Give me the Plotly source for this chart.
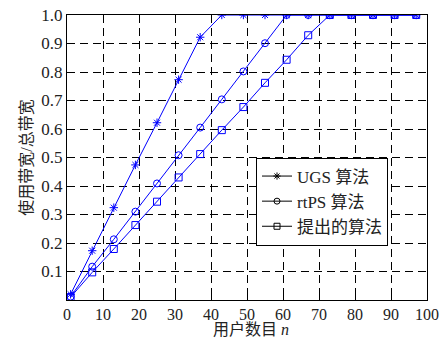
import plotly.graph_objects as go

users = [1, 7, 13, 19, 25, 31, 37, 43, 49, 55, 61, 67, 73, 79, 85, 91, 97]
ugs = [0.02, 0.173, 0.324, 0.474, 0.622, 0.773, 0.922, 1.0, 1.0, 1.0, 1.0, 1.0, 1.0, 1.0, 1.0, 1.0, 1.0]
rtps = [0.012, 0.117, 0.213, 0.31, 0.409, 0.508, 0.605, 0.704, 0.802, 0.901, 1.0, 1.0, 1.0, 1.0, 1.0, 1.0, 1.0]
proposed = [0.01, 0.097, 0.179, 0.263, 0.345, 0.43, 0.512, 0.596, 0.677, 0.762, 0.843, 0.929, 1.0, 1.0, 1.0, 1.0, 1.0]
names = ["UGS 算法", "rtPS 算法", "提出的算法"]
symbols = ["asterisk-open", "circle-open", "square-open"]
x_title = "用户数目 <i>n</i>"
y_title = "使用带宽/总带宽"

xticks = list(range(0, 101, 10))
yticks = [round(0.1 * i, 1) for i in range(1, 11)]
ytext = ["%.1f" % v for v in yticks]

serif = "Liberation Serif, Noto Sans CJK SC, serif"
blue = "rgb(0,0,255)"
txt = "#222"

fig = go.Figure()
for ys, sym in zip([ugs, rtps, proposed], symbols):
    fig.add_trace(go.Scatter(
        x=users, y=ys, mode="lines+markers", showlegend=False,
        line=dict(color=blue, width=1),
        marker=dict(symbol=sym, size=7, color=blue, line=dict(color=blue, width=1)),
    ))
for nm, sym in zip(names, symbols):
    fig.add_trace(go.Scatter(
        x=[None], y=[None], mode="lines+markers", name=nm,
        line=dict(color="black", width=1),
        marker=dict(symbol=sym, size=6, color="black", line=dict(color="black", width=1)),
    ))

axis_common = dict(
    showline=True, linecolor="black", linewidth=1, mirror=True,
    showgrid=True, gridcolor="black", gridwidth=1, griddash="8px,5px",
    ticks="inside", ticklen=4, tickcolor="black",
    zeroline=False, automargin=False,
)

fig.update_layout(
    width=443, height=339,
    margin=dict(l=67, r=16, t=15, b=39),
    paper_bgcolor="white", plot_bgcolor="white",
    xaxis=dict(range=[0, 100], tickvals=xticks, ticklabelstandoff=0, **axis_common,
               tickfont=dict(family=serif, size=16, color=txt)),
    yaxis=dict(range=[0, 1.0], tickvals=yticks, ticktext=ytext, **axis_common,
               tickfont=dict(family=serif, size=17, color=txt),
               title=dict(text=y_title, font=dict(family=serif, size=16, color=txt), standoff=4)),
    legend=dict(x=0.525, y=0.5, xanchor="left", yanchor="top",
                bgcolor="white", bordercolor="black", borderwidth=1,
                font=dict(family=serif, size=17, color=txt),
                itemwidth=30, tracegroupgap=0),
    annotations=[dict(text=x_title, xref="paper", yref="paper", x=0.51, y=-0.137,
                      xanchor="center", yanchor="bottom", showarrow=False, borderpad=0,
                      font=dict(family=serif, size=16, color=txt))],
)

fig.write_html("out.html", config={"displayModeBar": False},
               post_script="document.body.style.margin='0';document.body.style.overflow='hidden';")
